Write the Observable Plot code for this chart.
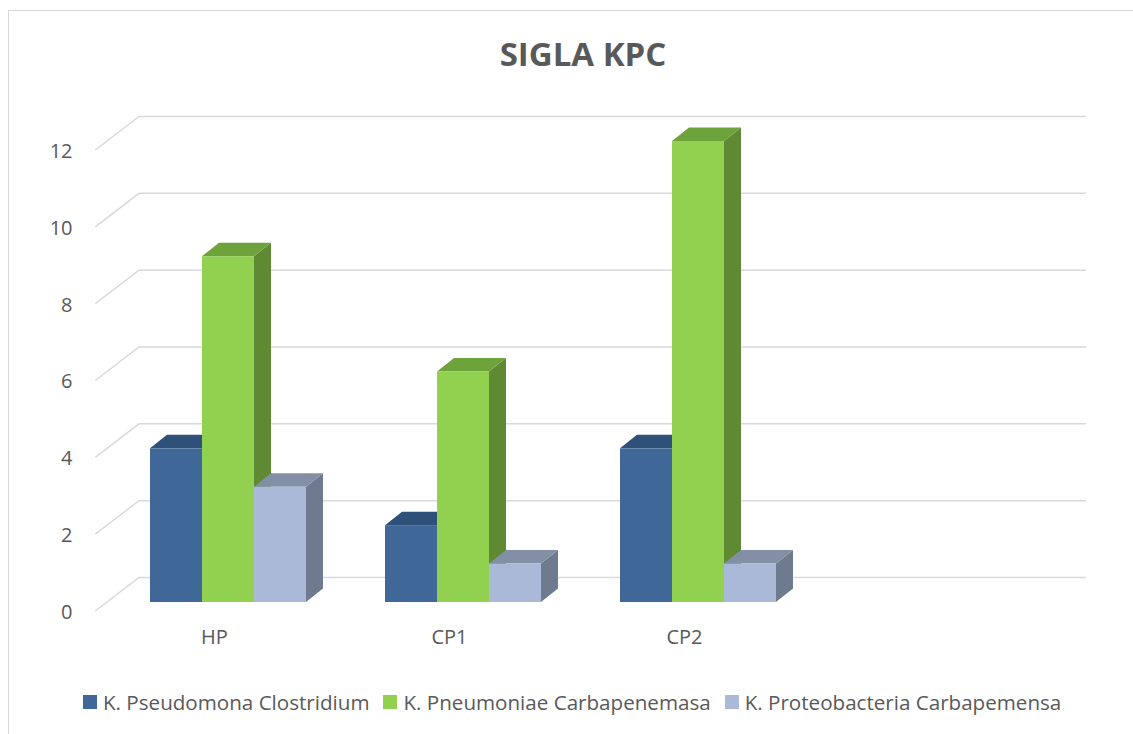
<!DOCTYPE html>
<html>
<head>
<meta charset="utf-8">
<script src="https://cdn.jsdelivr.net/npm/d3@7"></script>
<script src="https://cdn.jsdelivr.net/npm/@observablehq/plot@0.6"></script>
<style>
  html, body { margin: 0; padding: 0; background: #fff; }
  #wrap { position: relative; width: 1133px; height: 734px; overflow: hidden; font-family: "Open Sans", sans-serif; color: #595959; }
  #border { position: absolute; left: 8px; top: 10px; width: 1300px; height: 900px; border-left: 1.5px solid #d9d9d9; border-top: 1.5px solid #d9d9d9; box-sizing: border-box; }
  #title { position: absolute; left: 0; top: 37px; width: 1166px; text-align: center; font-size: 33px; line-height: 33px; font-weight: 700; color: #595959; }
  #plot { position: absolute; left: 0; top: 90px; }
  #legend { position: absolute; left: 83px; top: 680px; height: 44px; display: flex; align-items: center; font-size: 20.6px; color: #595959; white-space: nowrap; }
  .item { display: flex; align-items: center; margin-right: 14px; }
  .sw { width: 14px; height: 14px; margin-right: 6px; }
</style>
</head>
<body>
<div id="wrap">
  <div id="border"></div>
  <div id="title">SIGLA KPC</div>
  <div id="plot"></div>
  <div id="legend"></div>
</div>
<script>
// ---- data ----
const categories = ["HP", "CP1", "CP2", " "];
const seriesNames = ["K. Pseudomona Clostridium", "K. Pneumoniae Carbapenemasa", "K. Proteobacteria Carbapemensa"];
const pseudomona = [4, 2, 4];
const pneumoniae = [9, 6, 12];
const proteobacteria = [3, 1, 1];
const yTicks = [0, 2, 4, 6, 8, 10, 12];

// ---- styles ----
const frontColors = ["#3f6899", "#92d050", "#abb9d8"];
const topColors = ["#2f5078", "#6ea33c", "#838fa5"];
const sideColors = ["#2a4669", "#5f8a33", "#6e7a8e"];
const DEPTH_X = 17, DEPTH_Y = -13.5;     // bar depth in pixels
const WALL_X = 32, WALL_Y = -24.5;       // back wall offset
const FRONT_X = -11.7, FRONT_Y = 9;      // front edge offset
const gridColor = "#d9d9d9";

const seriesValues = [pseudomona, pneumoniae, proteobacteria];
const rows = [];
categories.forEach((c, ci) => {
  seriesValues.forEach((vals, si) => {
    if (ci < vals.length) rows.push({cat: c, series: seriesNames[si], si, value: vals[ci]});
  });
});

function bandwidthOf(scales) {
  if (scales.x && typeof scales.x.bandwidth === "function") return scales.x.bandwidth();
  if (scales.scales && scales.scales.x && scales.scales.x.bandwidth != null) return scales.scales.x.bandwidth;
  return 0;
}

function prismRender(index, scales, values) {
  const g = d3.create("svg:g");
  const bw = bandwidthOf(scales);
  const sub = d3.scaleBand().domain(seriesNames).range([0, bw]);
  const w = sub.bandwidth();
  for (const i of index) {
    const d = rows[i];
    const x1 = values.x[i] + sub(d.series), x2 = x1 + w;
    const yT = Math.min(values.y1[i], values.y2[i]);
    const yB = Math.max(values.y1[i], values.y2[i]);
    const pts = a => a.map(p => p.join(",")).join(" ");
    g.append("polygon").attr("points", pts([[x2, yT], [x2 + DEPTH_X, yT + DEPTH_Y], [x2 + DEPTH_X, yB + DEPTH_Y], [x2, yB]]))
      .attr("fill", sideColors[d.si]);
    g.append("polygon").attr("points", pts([[x1, yT], [x1 + DEPTH_X, yT + DEPTH_Y], [x2 + DEPTH_X, yT + DEPTH_Y], [x2, yT]]))
      .attr("fill", topColors[d.si]);
    g.append("rect").attr("x", x1).attr("y", yT).attr("width", w).attr("height", yB - yT)
      .attr("fill", frontColors[d.si]);
  }
  return g.node();
}

function gridRender(index, scales, values, dimensions) {
  const g = d3.create("svg:g");
  const xl = dimensions.marginLeft;
  const xr = dimensions.width - dimensions.marginRight;
  for (const i of index) {
    const y = values.y[i];
    g.append("polyline")
      .attr("points", [[xl + FRONT_X, y + FRONT_Y], [xl + WALL_X, y + WALL_Y], [xr + WALL_X, y + WALL_Y]].map(p => p.join(",")).join(" "))
      .attr("fill", "none").attr("stroke", gridColor).attr("stroke-width", 1.5);
  }
  return g.node();
}

const chart = Plot.plot({
  width: 1133,
  height: 590,
  marginTop: 51,
  marginBottom: 78,
  marginLeft: 107,
  marginRight: 79,
  style: {fontFamily: "Open Sans", background: "transparent", overflow: "visible"},
  x: {type: "band", domain: categories, paddingInner: 0.3347, paddingOuter: 0.175, axis: null},
  y: {domain: [0, 12], axis: null},
  marks: [
    Plot.ruleY(yTicks, {y: d => d, render: gridRender}),
    Plot.text(yTicks, {y: d => d, text: d => String(d), frameAnchor: "left", textAnchor: "end", dx: -35, dy: 10, fontSize: 20, fill: "#595959"}),
    Plot.text(categories, {x: d => d, text: d => d, frameAnchor: "bottom", dy: 41, dx: -14, fontSize: 20, fill: "#595959"}),
    Plot.barY(rows, {x: "cat", y1: d => 0, y2: "value", render: prismRender})
  ]
});
document.getElementById("plot").appendChild(chart);

const legend = document.getElementById("legend");
seriesNames.forEach((name, i) => {
  const item = document.createElement("div");
  item.className = "item";
  const sw = document.createElement("div");
  sw.className = "sw";
  sw.style.background = frontColors[i];
  const label = document.createElement("span");
  label.textContent = name;
  item.appendChild(sw);
  item.appendChild(label);
  legend.appendChild(item);
});
</script>
</body>
</html>
